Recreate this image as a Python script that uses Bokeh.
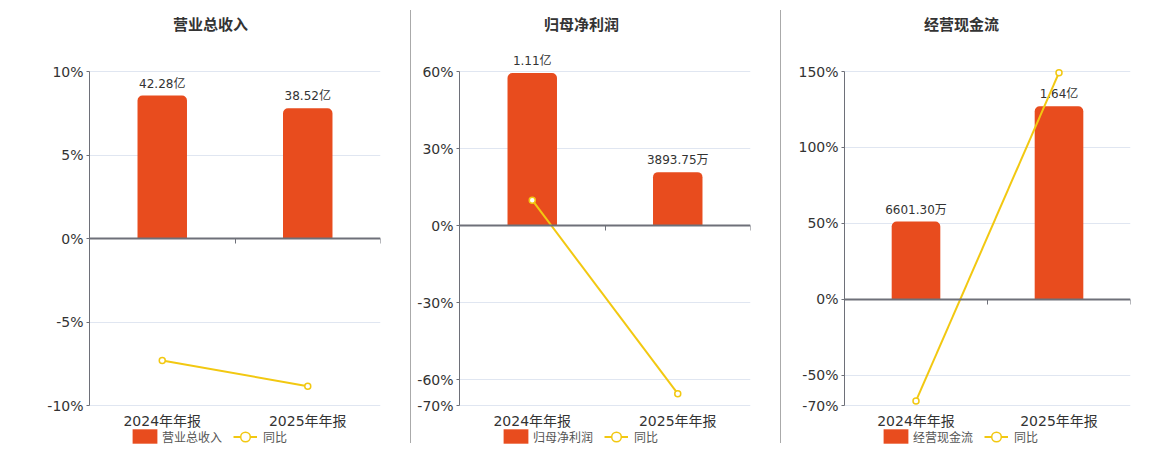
from bokeh.plotting import figure
from bokeh.models import (Range1d, LinearAxis, FixedTicker, Label, LabelSet,
                          ColumnDataSource, Legend, LegendItem, Div)
from bokeh.layouts import row
from bokeh.core.properties import value
from bokeh.embed import file_html
from bokeh.resources import INLINE

# ---------------- data ----------------
categories = ["2024年年报", "2025年年报"]
titles = ["营业总收入", "归母净利润", "经营现金流"]
yoy_name = "同比"

# bar values (unit: 亿)
revenue = [42.28, 38.52]
net_profit = [1.11, 0.389375]
cash_flow = [0.66013, 1.64]
revenue_labels = ["42.28亿", "38.52亿"]
net_profit_labels = ["1.11亿", "3893.75万"]
cash_flow_labels = ["6601.30万", "1.64亿"]

# year-on-year growth (%)
revenue_yoy = [-7.3, -8.85]
net_profit_yoy = [9.9, -65.4]
cash_flow_yoy = [-67.0, 149.2]

# left axis ticks (%)
revenue_ticks = [-10, -5, 0, 5, 10]
net_profit_ticks = [-70, -60, -30, 0, 30, 60]
cash_flow_ticks = [-70, -50, 0, 50, 100, 150]

# hidden bar axis: percent of left axis per 亿
bar_scale = [0.2025, 53.5, 77.5]

# ---------------- style ----------------
BAR = "#E84C1E"
YEL = "#F2C811"
AXC = "#6E7079"
GRID = "#E0E6F1"
TXT = "#333333"
LEG_TXT = "#555555"
FONT = "DejaVu Sans, Noto Sans CJK SC"
CJK = "Noto Sans CJK SC"

FIG_H = 450
TOP_PX = 71      # canvas top to the top tick
PLOT_PX = 334    # top tick to bottom tick
BOTTOM_PX = FIG_H - TOP_PX - PLOT_PX


def make_panel(title, vals, labels, yoy, ticks, scale, width, bl, br, title_x, legend_x):
    ymin, ymax = min(ticks), max(ticks)
    d = (ymax - ymin) / PLOT_PX
    y_start = ymin - BOTTOM_PX * d
    y_end = ymax + TOP_PX * d
    xs = [k + 1 for k in range(len(categories))]
    p = figure(width=width, height=FIG_H, output_backend="svg", toolbar_location=None,
               title=None,
               x_range=Range1d(0.5, len(categories) + 0.5), y_range=Range1d(y_start, y_end),
               min_border_left=bl, min_border_right=br, min_border_top=0,
               min_border_bottom=0)
    p.outline_line_color = None
    p.background_fill_color = "white"
    p.border_fill_color = "white"
    p.xgrid.visible = False
    p.xaxis.visible = False
    p.ygrid.ticker = FixedTicker(ticks=ticks)
    p.ygrid.grid_line_color = GRID
    p.ygrid.grid_line_width = 1

    p.extra_y_ranges = {"bar": Range1d(y_start / scale, y_end / scale)}
    src = ColumnDataSource(dict(x=xs, v=vals, lab=labels, yoy=yoy,
                                cat=categories, base=[ymin] * len(xs)))

    bars = p.vbar(x="x", top="v", bottom=0, width=0.34, y_range_name="bar", source=src,
                  fill_color=BAR, line_color=None, border_radius=(5, 5, 0, 0))
    p.add_layout(LabelSet(x="x", y="v", text="lab", y_range_name="bar", source=src,
                          y_offset=5, text_align="center", text_baseline="bottom",
                          text_font_size="12px", text_color=TXT, text_font=value(FONT),
                          level="underlay"))

    ln = p.line("x", "yoy", source=src, line_color=YEL, line_width=2)
    dots = p.scatter("x", "yoy", source=src, size=6, fill_color="white",
                     line_color=YEL, line_width=1.5)

    # category labels below the bottom tick
    p.add_layout(LabelSet(x="x", y="base", text="cat", source=src, y_offset=-15,
                          text_align="center", text_baseline="middle",
                          text_font_size="14px", text_color=TXT, text_font=value(FONT)))

    # left axis
    ya = p.yaxis[0]
    ya.ticker = FixedTicker(ticks=ticks)
    ya.bounds = (ymin, ymax)
    ya.major_label_overrides = {t: f"{t}%" for t in ticks}
    ya.axis_line_color = AXC
    ya.major_tick_line_color = AXC
    ya.major_tick_out = 3
    ya.major_tick_in = 0
    ya.minor_tick_line_color = None
    ya.major_label_standoff = 3
    ya.major_label_text_font_size = "14px"
    ya.major_label_text_color = TXT
    ya.major_label_text_font = FONT

    # zero line axis with ticks between categories
    za = LinearAxis(fixed_location=0,
                    ticker=FixedTicker(ticks=[k + 0.5 for k in range(len(categories) + 1)]),
                    axis_line_color=AXC, axis_line_width=2,
                    major_tick_line_color=AXC, major_tick_in=5, major_tick_out=0,
                    minor_tick_line_color=None, major_label_text_color=None)
    p.add_layout(za, "above")

    p.add_layout(Label(x=title_x, x_units="screen", y=ymax, y_offset=TOP_PX - 23,
                       text=title, text_align="center", text_baseline="middle",
                       text_font_size="15px", text_font_style="bold", text_color=TXT,
                       text_font=CJK))

    common = dict(orientation="horizontal", padding=0, margin=0, border_line_color=None,
                  background_fill_alpha=0, label_text_font_size="12px",
                  label_text_color=LEG_TXT, label_text_font=CJK)
    leg_bar = Legend(items=[LegendItem(label=title, renderers=[bars])],
                     location=(legend_x, 5), glyph_width=31, glyph_height=18,
                     label_standoff=2, **common)
    leg_line = Legend(items=[LegendItem(label=yoy_name, renderers=[ln, dots])],
                      location=(legend_x + 104, 1), glyph_width=24, glyph_height=25,
                      label_standoff=6, **common)
    p.add_layout(leg_bar)
    p.add_layout(leg_line)
    return p


p1 = make_panel(titles[0], revenue, revenue_labels, revenue_yoy, revenue_ticks,
                bar_scale[0], 410, 89, 30, 121, 40)
p2 = make_panel(titles[1], net_profit, net_profit_labels, net_profit_yoy, net_profit_ticks,
                bar_scale[1], 369, 48, 30, 122, 41)
p3 = make_panel(titles[2], cash_flow, cash_flow_labels, cash_flow_yoy, cash_flow_ticks,
                bar_scale[2], 369, 63, 20, 117, 36)

sep1 = Div(text="", width=1, height=433, margin=(10, 0, 0, 0),
           styles={"background-color": "#aaaaaa"})
sep2 = Div(text="", width=1, height=433, margin=(10, 0, 0, 0),
           styles={"background-color": "#aaaaaa"})

layout = row(p1, sep1, p2, sep2, p3)
open("out.html", "w").write(file_html(layout, INLINE))
